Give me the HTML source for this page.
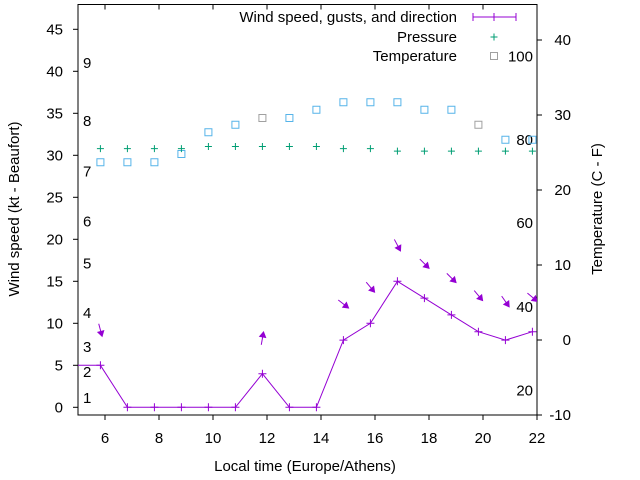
<!DOCTYPE html>
<html><head><meta charset="utf-8"><style>
html,body{margin:0;padding:0;background:#fff}
svg{display:block;font-family:"Liberation Sans",sans-serif}
</style></head><body>
<svg id="chart" width="640" height="480" viewBox="0 0 640 480" xmlns="http://www.w3.org/2000/svg">
<rect x="0" y="0" width="640" height="480" fill="#fff"/>
<defs><clipPath id="plotclip"><rect x="78" y="4.5" width="459" height="410.5"/></clipPath></defs>
<g id="axes"></g>
<g id="marks" clip-path="url(#plotclip)"></g>
<g id="legend"></g>
</svg>
<script>
const hours = [4.83,5.83,6.83,7.83,8.83,9.83,10.83,11.83,12.83,13.83,14.83,15.83,16.83,17.83,18.83,19.83,20.83,21.83];
const windKt = [5,5,0,0,0,0,0,4,0,0,8,10,15,13,11,9,8,9];
const pressure = [30.8,30.8,30.8,30.8,30.8,31.05,31.05,31.05,31.05,31.05,30.8,30.8,30.5,30.5,30.5,30.5,30.5,30.5];
const tempC = [23.7,23.7,23.7,23.7,24.8,27.7,28.7,29.6,29.6,30.7,31.7,31.7,31.7,30.7,30.7,28.7,26.7,26.7];
const tempGray = [false,false,false,false,false,false,false,true,false,false,false,false,false,false,false,true,false,false];
const arrowHours = [5.83,11.83,14.83,15.83,16.83,17.83,18.83,19.83,20.83,21.83];
const arrowKt = [9.2,8.2,12.3,14.3,19.3,17.1,15.4,13.3,12.6,13.1];
const arrowDirDeg = [75,-80,38,50,62,45,45,50,55,40];
const xTicks = [6,8,10,12,14,16,18,20,22];
const yLeftTicks = [0,5,10,15,20,25,30,35,40,45];
const yRightTicks = [-10,0,10,20,30,40];
const beaufortLabels = ["1","2","3","4","5","6","7","8","9"];
const beaufortKt = [1.1,4.2,7.2,11.2,17.1,22.1,28.1,34.1,41];
const fahrLabels = ["20","40","60","80","100"];
const fahrC = [-6.7,4.4,15.6,26.7,37.8];

const NS="http://www.w3.org/2000/svg";
const X = h => 105 + (h-6)*27;
const YL = v => 407.3 - 8.4*v;
const YR = c => 340 - 7.5*c;
function mk(tag, attrs, parent, text){
  const e=document.createElementNS(NS,tag);
  for(const k in attrs) e.setAttribute(k,attrs[k]);
  if(text!==undefined) e.textContent=text;
  parent.appendChild(e); return e;
}
const axes=document.getElementById('axes');
const marks=document.getElementById('marks');
const legend=document.getElementById('legend');

// frame
const frame=mk('rect',{x:78,y:4.5,width:459,height:410.5,fill:'none',stroke:'#000','stroke-width':1},axes);



xTicks.forEach(t=>{
  const x=X(t);
  const a=mk('line',{x1:x,y1:415,x2:x,y2:420,stroke:'#000'},axes);
  
  
  const b=mk('line',{x1:x,y1:4.5,x2:x,y2:9.5,stroke:'#000'},axes);
  
  
  const l=mk('text',{x:x,y:443,'text-anchor':'middle','font-size':15,fill:'#000'},axes,String(t));
  
  
});
yLeftTicks.forEach(v=>{
  const y=YL(v);
  const a=mk('line',{x1:73,y1:y,x2:78,y2:y,stroke:'#000'},axes);
  
  
  const l=mk('text',{x:63,y:y+5,'text-anchor':'end','font-size':15,fill:'#000'},axes,String(v));
  
  
});
yRightTicks.forEach(v=>{
  const y=YR(v);
  const a=mk('line',{x1:537,y1:y,x2:542,y2:y,stroke:'#000'},axes);
  
  
  const l=mk('text',{x:571,y:y+5,'text-anchor':'end','font-size':15,fill:'#000'},axes,String(v));
  
  
});
beaufortLabels.forEach((s,i)=>{
  const l=mk('text',{x:83,y:YL(beaufortKt[i])+5,'font-size':15,fill:'#000'},axes,s);
  
  
});
fahrLabels.forEach((s,i)=>{
  const l=mk('text',{x:533,y:YR(fahrC[i])+5,'text-anchor':'end','font-size':15,fill:'#000'},axes,s);
  
  
});
const xt=mk('text',{x:305,y:471,'text-anchor':'middle','font-size':15,fill:'#000'},axes,'Local time (Europe/Athens)');


const yt=mk('text',{x:0,y:0,transform:'translate(19,209) rotate(-90)','text-anchor':'middle','font-size':15,fill:'#000'},axes,'Wind speed (kt - Beaufort)');


const yt2=mk('text',{x:0,y:0,transform:'translate(602,209) rotate(-90)','text-anchor':'middle','font-size':15,fill:'#000'},axes,'Temperature (C - F)');



// temperature
hours.forEach((h,i)=>{
  const r=mk('rect',{x:X(h)-3.5,y:YR(tempC[i])-3.5,width:7,height:7,fill:'none',stroke:tempGray[i]?'#a0a0a0':'#56b4e9','stroke-width':1},marks);
  
  
});
// pressure
hours.forEach((h,i)=>{
  const x=X(h),y=YL(pressure[i]);
  const p=mk('path',{d:`M${x-3.5},${y}H${x+3.5}M${x},${y-3.5}V${y+3.5}`,stroke:'#009e73','stroke-width':1,fill:'none'},marks);
  
  
});
// wind line
const pts=hours.map((h,i)=>X(h)+','+YL(windKt[i])).join(' ');
const wl=mk('polyline',{points:pts,fill:'none',stroke:'#9400d3','stroke-width':1},marks);


hours.forEach((h,i)=>{
  const x=X(h),y=YL(windKt[i]);
  const p=mk('path',{d:`M${x-4},${y}H${x+4}M${x},${y-4}V${y+4}`,stroke:'#9400d3','stroke-width':1},marks);
  
  
});
// arrows
arrowHours.forEach((h,i)=>{
  const cx=X(h),cy=YL(arrowKt[i]);
  const a=arrowDirDeg[i]*Math.PI/180, L=13;
  const dx=Math.cos(a),dy=Math.sin(a);
  const x1=cx-dx*L/2,y1=cy-dy*L/2,x2=cx+dx*L/2,y2=cy+dy*L/2;
  const g=mk('g',{},marks);
  
  
  mk('line',{x1:x1,y1:y1,x2:x2,y2:y2,stroke:'#9400d3','stroke-width':1},g);
  const hl=5,hw=3;
  const bx=x2-dx*hl,by=y2-dy*hl;
  mk('polygon',{points:`${x2},${y2} ${bx-dy*hw},${by+dx*hw} ${bx+dy*hw},${by-dx*hw}`,fill:'#9400d3',stroke:'#9400d3'},g);
});

// legend
const lg=[['Wind speed, gusts, and direction',17],['Pressure',37],['Temperature',56]];
lg.forEach(([s,y])=>{
  const t=mk('text',{x:457,y:y+5,'text-anchor':'end','font-size':15,fill:'#000'},legend,s);
  
  
});
const ls=mk('path',{d:'M473,17H516M473,13V21M516,13V21M494,13V21',stroke:'#9400d3',fill:'none'},legend);


const lp=mk('path',{d:'M490.5,37H497.5M494,33.5V40.5',stroke:'#009e73',fill:'none'},legend);


const lt=mk('rect',{x:490.5,y:52.5,width:7,height:7,fill:'none',stroke:'#a0a0a0'},legend);


</script>
</body></html>
